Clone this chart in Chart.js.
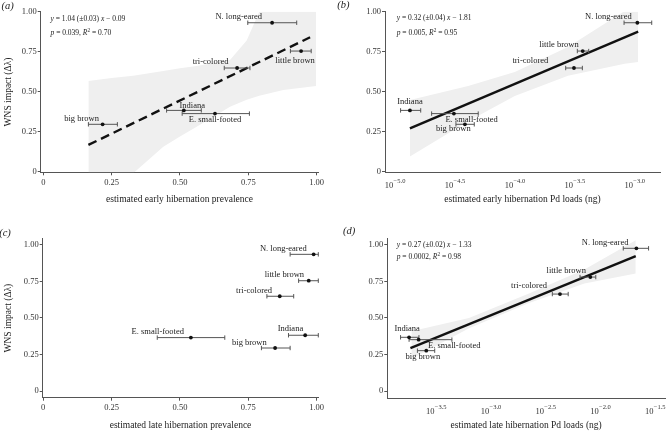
<!DOCTYPE html>
<html>
<head>
<meta charset="utf-8">
<script src="https://cdn.jsdelivr.net/npm/chart.js@4.4.1/dist/chart.umd.min.js"></script>
<style>
html, body { margin: 0; padding: 0; background: #fff; }
#wrap { position: relative; width: 670px; height: 433px; }
#wrap canvas { position: absolute; left: 0; top: 0; }
</style>
</head>
<body>
<div id="wrap">
  <canvas id="cA" width="670" height="433"></canvas>
  <canvas id="cB" width="670" height="433"></canvas>
  <canvas id="cC" width="670" height="433"></canvas>
  <canvas id="cD" width="670" height="433"></canvas>
</div>
<script>
// ---------------- data ----------------
const species = ["N. long-eared", "little brown", "tri-colored", "Indiana", "E. small-footed", "big brown"];

// WNS impact (delta lambda)
const impact = [0.931, 0.754, 0.648, 0.383, 0.363, 0.296];
const impactC = [0.934, 0.754, 0.648, 0.382, 0.366, 0.295];
const impactD = [0.975, 0.779, 0.663, 0.368, 0.352, 0.277];

// (a) early hibernation prevalence
const earlyPrev   = [0.837, 0.943, 0.709, 0.514, 0.628, 0.217];
const earlyPrevLo = [0.748, 0.904, 0.662, 0.451, 0.508, 0.165];
const earlyPrevHi = [0.927, 0.980, 0.756, 0.578, 0.754, 0.271];
const fitAX = [0.165, 0.976];
const fitAY = [0.167, 0.840];
const bandAX  = [0.165, 0.25, 0.329, 0.439, 0.5, 0.561, 0.683, 0.744, 0.79, 0.878, 0.998];
const bandAUp = [0.567, 0.585, 0.60, 0.63, 0.646, 0.66, 0.698, 0.82, 1.0, 1.2, 1.4];
const bandALo = [-0.01, -0.01, -0.01, 0.156, 0.22, 0.28, 0.406, 0.45, 0.475, 0.51, 0.535];

// (b) early hibernation Pd loads (log10 ng)
const earlyLoad   = [-2.977, -3.433, -3.506, -4.875, -4.508, -4.416];
const earlyLoadLo = [-3.088, -3.478, -3.575, -4.953, -4.694, -4.491];
const earlyLoadHi = [-2.857, -3.383, -3.436, -4.785, -4.305, -4.338];
const fitBX = [-4.875, -2.97];
const fitBY = [0.271, 0.875];
const bandBX  = [-4.875, -4.389, -4.0, -3.556, -3.083, -2.97];
const bandBUp = [0.448, 0.535, 0.623, 0.779, 1.004, 1.065];
const bandBLo = [0.094, 0.315, 0.473, 0.599, 0.674, 0.685];

// (c) late hibernation prevalence
const latePrev   = [0.989, 0.971, 0.865, 0.958, 0.540, 0.848];
const latePrevLo = [0.903, 0.934, 0.818, 0.897, 0.417, 0.798];
const latePrevHi = [1.006, 1.006, 0.916, 1.006, 0.664, 0.903];

// (d) late hibernation Pd loads (log10 ng)
const lateLoad   = [-1.671, -2.092, -2.369, -3.747, -3.66, -3.590];
const lateLoadLo = [-1.791, -2.186, -2.439, -3.825, -3.747, -3.671];
const lateLoadHi = [-1.560, -2.042, -2.294, -3.657, -3.356, -3.513];
const fitDX = [-3.735, -1.677];
const fitDY = [0.295, 0.922];
const bandDX  = [-3.726, -3.2, -2.658, -2.146, -1.677];
const bandDUp = [0.41, 0.50, 0.665, 0.83, 1.03];
const bandDLo = [0.22, 0.43, 0.60, 0.735, 0.804];

// ticks
const linTicks = [0, 0.25, 0.5, 0.75, 1];
const linTickLabels = ["0", "0.25", "0.50", "0.75", "1.00"];
const earlyLogTicks = [-5, -4.5, -4, -3.5, -3];
const earlyLogExp = ["\u22125.0", "\u22124.5", "\u22124.0", "\u22123.5", "\u22123.0"];
const lateLogTicks = [-3.5, -3, -2.5, -2, -1.5];
const lateLogExp = ["\u22123.5", "\u22123.0", "\u22122.5", "\u22122.0", "\u22121.5"];

// label anchors (data units)
const labAX = [0.715, 0.921, 0.612, 0.545, 0.628, 0.140];
const labAY = [0.969, 0.692, 0.684, 0.415, 0.323, 0.331];
const labBX = [-3.219, -3.631, -3.87, -4.875, -4.36, -4.513];
const labBY = [0.969, 0.792, 0.694, 0.434, 0.327, 0.271];
const labCX = [0.878, 0.882, 0.771, 0.904, 0.419, 0.754];
const labCY = [0.975, 0.793, 0.686, 0.423, 0.406, 0.331];
const labDX = [-1.957, -2.312, -2.652, -3.765, -3.335, -3.621];
const labDY = [1.016, 0.820, 0.718, 0.427, 0.307, 0.236];

// ---------------- drawing ----------------
const SERIF = "'Liberation Serif', 'DejaVu Serif', serif";
const W = 670, H = 433, AXW = 30, AXH = 30;

function pts(xs, ys) { return xs.map((x, i) => ({x: x, y: ys[i]})); }

function drawRich(ctx, parts, x, y, size) {
    // parts: [text, style] where style: '' | 'i' | 'sup'
    let cx = x;
    parts.forEach(p => {
        const sup = p[1] === 'sup';
        ctx.font = (p[1] === 'i' ? 'italic ' : '') + (sup ? size * 0.7 : size) + 'px ' + SERIF;
        ctx.fillText(p[0], cx, sup ? y - size * 0.35 : y);
        cx += ctx.measureText(p[0]).width;
    });
}

function makeDecor(spec) {
    return {
        id: 'decor',
        afterDraw(chart) {
            const ctx = chart.ctx, xs = chart.scales.x, ys = chart.scales.y;
            const a = chart.chartArea;
            ctx.save();
            ctx.fillStyle = '#222';
            ctx.textBaseline = 'middle';

            // species labels
            ctx.font = '8.5px ' + SERIF;
            ctx.textAlign = 'center';
            spec.labX.forEach((lx, i) => {
                ctx.fillText(species[i], xs.getPixelForValue(lx), ys.getPixelForValue(spec.labY[i]));
            });

            // log tick labels 10^exp
            if (spec.logExp) {
                ctx.textAlign = 'left';
                ctx.fillStyle = '#333';
                spec.xTicks.forEach((v, i) => {
                    const px = xs.getPixelForValue(v);
                    ctx.font = '8.5px ' + SERIF;
                    const w1 = ctx.measureText('10').width;
                    ctx.font = '6.5px ' + SERIF;
                    const w2 = ctx.measureText(spec.logExp[i]).width;
                    const x0 = px - (w1 + w2) / 2;
                    ctx.font = '8.5px ' + SERIF;
                    ctx.fillText('10', x0, a.bottom + 13);
                    ctx.font = '6.5px ' + SERIF;
                    ctx.fillText(spec.logExp[i], x0 + w1 + 0.3, a.bottom + 9);
                });
                ctx.fillStyle = '#222';
            }

            // x title
            ctx.textAlign = 'center';
            ctx.font = '9.5px ' + SERIF;
            ctx.fillText(spec.xTitle, (a.left + a.right) / 2, a.bottom + 27.5);

            // y title
            if (spec.yTitle) {
                ctx.save();
                ctx.translate(8.3, (a.top + a.bottom) / 2);
                ctx.rotate(-Math.PI / 2);
                ctx.fillText('WNS impact (\u0394\u03bb)', 0, 0);
                ctx.restore();
            }

            // panel letter
            ctx.font = 'italic 10.5px ' + SERIF;
            ctx.fillText(spec.letter[0], spec.letter[1], spec.letter[2]);

            // regression note
            if (spec.note) {
                ctx.textAlign = 'left';
                drawRich(ctx, spec.note[0], spec.noteX, spec.noteY[0], 7.5);
                drawRich(ctx, spec.note[1], spec.noteX, spec.noteY[1], 7.5);
            }
            ctx.restore();
        }
    };
}

function makePanel(id, spec) {
    const datasets = [];
    if (spec.band) {
        datasets.push({
            data: pts(spec.band[0], spec.band[1]), fill: '+1',
            backgroundColor: '#efefef', borderColor: 'rgba(0,0,0,0)', pointRadius: 0, order: 10
        });
        datasets.push({
            data: pts(spec.band[0], spec.band[2]), fill: false,
            borderColor: 'rgba(0,0,0,0)', pointRadius: 0, order: 10
        });
    }
    if (spec.fit) {
        datasets.push({
            data: pts(spec.fit[0], spec.fit[1]), borderColor: '#111', borderWidth: 2.4,
            borderDash: spec.dashed ? [9, 5] : [], pointRadius: 0, order: 5, clip: false
        });
    }
    // horizontal error bars
    spec.lo.forEach((lo, i) => {
        datasets.push({
            data: [{x: lo, y: spec.y[i]}, {x: spec.hi[i], y: spec.y[i]}],
            borderColor: '#555', borderWidth: 1,
            pointStyle: 'line', pointRotation: 90, pointRadius: 2.2,
            pointBorderColor: '#555', pointBorderWidth: 1, order: 3, clip: false
        });
    });
    datasets.push({
        data: pts(spec.x, spec.y), showLine: false,
        pointRadius: 1.9, pointBackgroundColor: '#111', pointBorderWidth: 0, order: 1, clip: false
    });

    const box = spec.box;
    const tickFont = {family: SERIF, size: 8.5};
    return new Chart(document.getElementById(id), {
        type: 'line',
        data: {datasets: datasets},
        plugins: [makeDecor(spec)],
        options: {
            responsive: false,
            devicePixelRatio: 1,
            animation: false,
            events: [],
            layout: {padding: {left: box.l - AXW, right: W - box.r, top: box.t, bottom: H - box.b - AXH}},
            plugins: {legend: {display: false}, tooltip: {enabled: false}},
            scales: {
                x: {
                    type: 'linear', min: spec.xMin, max: spec.xMax,
                    afterBuildTicks: s => { s.ticks = spec.xTicks.map(v => ({value: v})); },
                    afterFit: s => { s.height = AXH; },
                    grid: {drawOnChartArea: false, drawTicks: true, tickLength: 3, color: '#555'},
                    border: {display: true, color: '#555', width: 1},
                    ticks: {
                        display: !spec.logExp, autoSkip: false, maxRotation: 0, padding: 2,
                        color: '#333', font: tickFont,
                        callback: v => linTickLabels[linTicks.indexOf(v)]
                    }
                },
                y: {
                    type: 'linear', min: spec.yMin, max: spec.yMax,
                    afterBuildTicks: s => { s.ticks = linTicks.map(v => ({value: v})); },
                    afterFit: s => { s.width = AXW; },
                    grid: {drawOnChartArea: false, drawTicks: true, tickLength: 3, color: '#555'},
                    border: {display: true, color: '#555', width: 1},
                    ticks: {
                        autoSkip: false, padding: 1, color: '#333', font: tickFont,
                        callback: v => linTickLabels[linTicks.indexOf(v)]
                    }
                }
            }
        }
    });
}

makePanel('cA', {
    box: {l: 40.7, r: 318.3, t: 11.7, b: 172.3},
    xMin: -0.0095, xMax: 1.006, yMin: -0.004, yMax: 1.0,
    xTicks: linTicks,
    x: earlyPrev, lo: earlyPrevLo, hi: earlyPrevHi, y: impact,
    fit: [fitAX, fitAY], dashed: true, band: [bandAX, bandAUp, bandALo],
    labX: labAX, labY: labAY,
    xTitle: 'estimated early hibernation prevalence', yTitle: true,
    letter: ['(a)', 7.5, 6.7],
    note: [[['y', 'i'], [' = 1.04 (\u00b10.03) ', ''], ['x', 'i'], [' \u2212 0.09', '']],
           [['p', 'i'], [' = 0.039, ', ''], ['R', 'i'], ['2', 'sup'], [' = 0.70', '']]],
    noteX: 50.5, noteY: [19, 33.3]
});

makePanel('cB', {
    box: {l: 385, r: 660, t: 11.7, b: 172.3},
    xMin: -5.083, xMax: -2.788, yMin: -0.004, yMax: 1.0,
    xTicks: earlyLogTicks, logExp: earlyLogExp,
    x: earlyLoad, lo: earlyLoadLo, hi: earlyLoadHi, y: impact,
    fit: [fitBX, fitBY], dashed: false, band: [bandBX, bandBUp, bandBLo],
    labX: labBX, labY: labBY,
    xTitle: 'estimated early hibernation Pd loads (ng)', yTitle: false,
    letter: ['(b)', 343.3, 5.5],
    note: [[['y', 'i'], [' = 0.32 (\u00b10.04) ', ''], ['x', 'i'], [' \u2212 1.81', '']],
           [['p', 'i'], [' = 0.005, ', ''], ['R', 'i'], ['2', 'sup'], [' = 0.95', '']]],
    noteX: 396.7, noteY: [18.3, 33.3]
});

makePanel('cC', {
    box: {l: 42.7, r: 318.3, t: 238.5, b: 397.7},
    xMin: -0.002, xMax: 1.006, yMin: -0.044, yMax: 1.042,
    xTicks: linTicks,
    x: latePrev, lo: latePrevLo, hi: latePrevHi, y: impactC,
    labX: labCX, labY: labCY,
    xTitle: 'estimated late hibernation prevalence', yTitle: true,
    letter: ['(c)', 5, 233.3]
});

makePanel('cD', {
    box: {l: 387.3, r: 668.3, t: 238.5, b: 398.3},
    xMin: -3.946, xMax: -1.41, yMin: -0.048, yMax: 1.042,
    xTicks: lateLogTicks, logExp: lateLogExp,
    x: lateLoad, lo: lateLoadLo, hi: lateLoadHi, y: impactD,
    fit: [fitDX, fitDY], dashed: false, band: [bandDX, bandDUp, bandDLo],
    labX: labDX, labY: labDY,
    xTitle: 'estimated late hibernation Pd loads (ng)', yTitle: false,
    letter: ['(d)', 349, 231.7],
    note: [[['y', 'i'], [' = 0.27 (\u00b10.02) ', ''], ['x', 'i'], [' \u2212 1.33', '']],
           [['p', 'i'], [' = 0.0002, ', ''], ['R', 'i'], ['2', 'sup'], [' = 0.98', '']]],
    noteX: 396.7, noteY: [245, 257.3]
});
</script>
</body>
</html>
